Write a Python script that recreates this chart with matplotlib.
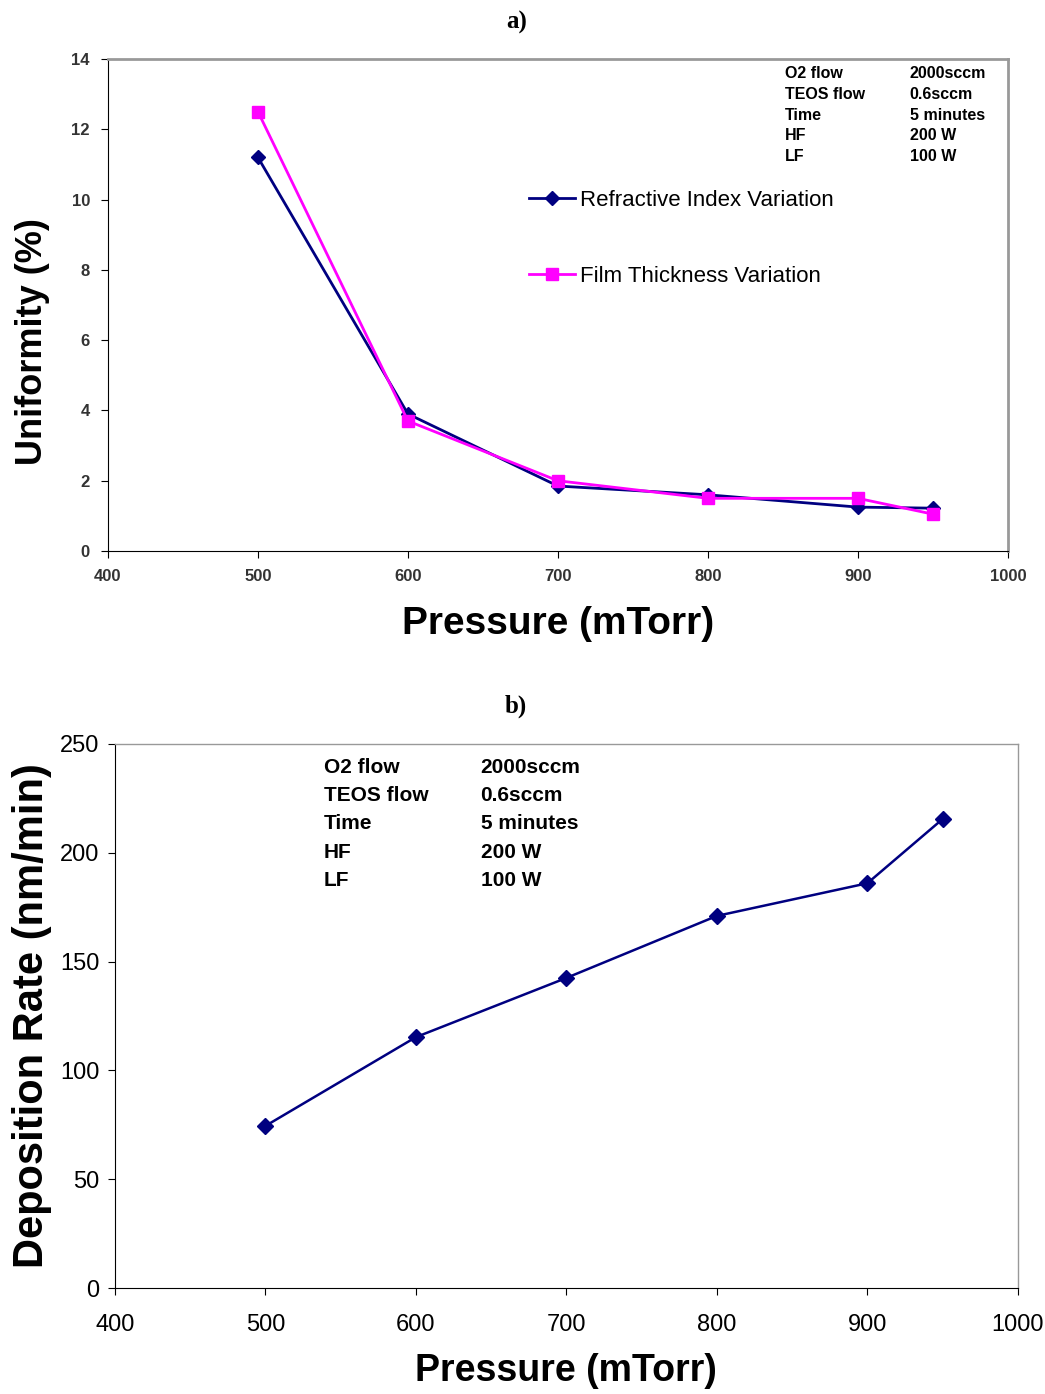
import matplotlib
matplotlib.use("Agg")
import matplotlib.pyplot as plt

plt.rcParams['font.family'] = ['Liberation Sans', 'DejaVu Sans']

# data
pressure = [500, 600, 700, 800, 900, 950]
ri_var = [11.2, 3.9, 1.85, 1.6, 1.25, 1.22]
thk_var = [12.5, 3.7, 2.0, 1.5, 1.5, 1.05]
dep_rate = [74.5, 115.3, 142.5, 171, 186, 215.5]

cond_names = ['O2 flow', 'TEOS flow', 'Time', 'HF', 'LF']
cond_vals = ['2000sccm', '0.6sccm', '5 minutes', '200 W', '100 W']

navy = '#000080'
pink = '#FF00FF'
narrow = ['Liberation Sans Narrow', 'DejaVu Sans Condensed', 'Liberation Sans']

fig = plt.figure(figsize=(10.45, 13.94), dpi=100)

# ---- a) uniformity ----
ax1 = fig.add_axes([0.1033, 0.6047, 0.8612, 0.3530])
ax1.plot(pressure, ri_var, color=navy, marker='D', ms=7, lw=2, label='Refractive Index Variation')
ax1.plot(pressure, thk_var, color=pink, marker='s', ms=9, lw=2, label='Film Thickness Variation')
ax1.set_xlim(400, 1000)
ax1.set_ylim(0, 14)
ax1.set_xticks(range(400, 1001, 100))
ax1.set_yticks(range(0, 15, 2))
ax1.tick_params(direction='out', length=5, labelsize=12, pad=8)
for lb in ax1.get_xticklabels() + ax1.get_yticklabels():
    lb.set_fontweight('bold')
    lb.set_color('#333333')
ax1.set_xlabel('Pressure (mTorr)', fontsize=28, fontweight='bold', labelpad=16)
ax1.set_ylabel('Uniformity (%)', fontsize=26, fontweight='bold')
ax1.yaxis.set_label_coords(-0.064, 0.425)
for s in ['top', 'right']:
    ax1.spines[s].set_color('#999999')
    ax1.spines[s].set_linewidth(2)
ax1.legend(loc='upper left', bbox_to_anchor=(0.455, 0.756), frameon=False, fontsize=16,
           labelspacing=2.45, handlelength=2.1, handletextpad=0.2, borderpad=0)
for i, (n, v) in enumerate(zip(cond_names, cond_vals)):
    y = 0.97 - i * 0.042
    ax1.text(0.752, y, n, transform=ax1.transAxes, fontsize=11.5, fontweight='bold', va='center')
    ax1.text(0.891, y, v, transform=ax1.transAxes, fontsize=11.5, fontweight='bold', va='center')
fig.text(0.494, 0.984, 'a)', family='Liberation Serif', fontsize=18, fontweight='bold', ha='center', va='center')

# ---- b) deposition rate ----
ax2 = fig.add_axes([0.110, 0.0760, 0.864, 0.3903])
ax2.plot(pressure, dep_rate, color=navy, marker='D', ms=8, lw=1.8)
ax2.set_xlim(400, 1000)
ax2.set_ylim(0, 250)
ax2.set_xticks(range(400, 1001, 100))
ax2.set_yticks(range(0, 251, 50))
ax2.tick_params(direction='out', length=5, labelsize=17, pad=6)
ax2.tick_params(axis='x', pad=14)
for lb in ax2.get_xticklabels() + ax2.get_yticklabels():
    lb.set_family(narrow)
ax2.set_xlabel('Pressure (mTorr)', fontsize=27, fontweight='bold', labelpad=12)
ax2.set_ylabel('Deposition Rate (nm/min)', fontsize=30, fontweight='bold', labelpad=6)
for s in ['top', 'right']:
    ax2.spines[s].set_color('#999999')
    ax2.spines[s].set_linewidth(1)
for i, (n, v) in enumerate(zip(cond_names, cond_vals)):
    y = 0.957 - i * 0.052
    ax2.text(0.231, y, n, transform=ax2.transAxes, fontsize=15, fontweight='bold', va='center', family=narrow)
    ax2.text(0.405, y, v, transform=ax2.transAxes, fontsize=15, fontweight='bold', va='center', family=narrow)
fig.text(0.494, 0.493, 'b)', family='Liberation Serif', fontsize=18, fontweight='bold', ha='center', va='center')

fig.savefig('out.png', dpi=100)
